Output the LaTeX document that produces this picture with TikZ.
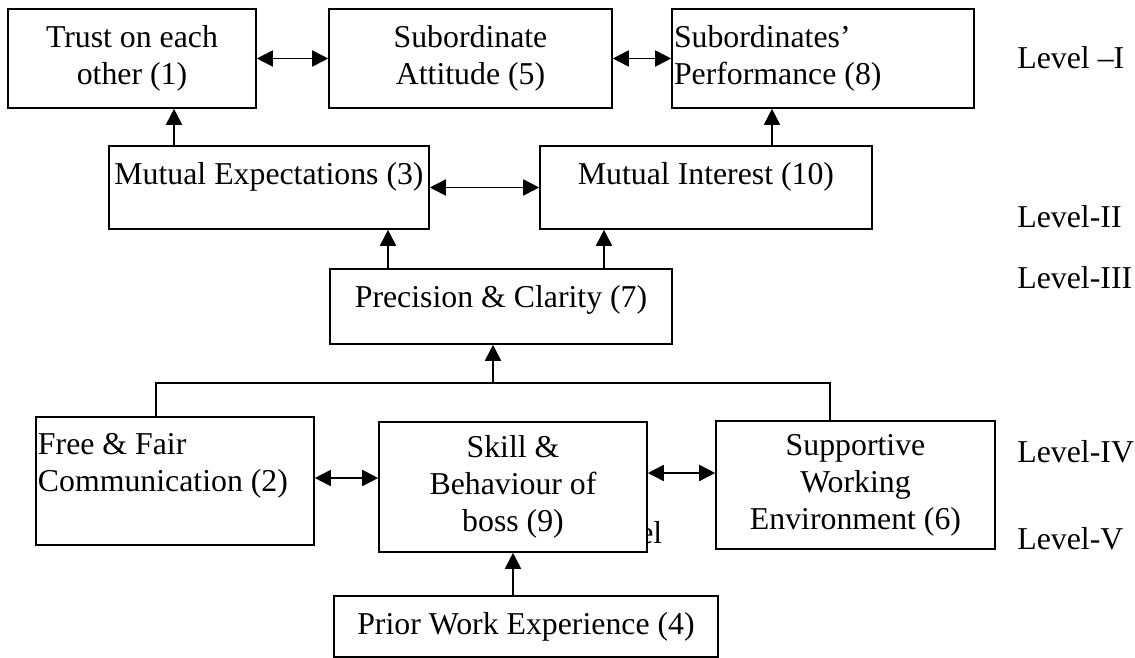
\documentclass[tikz,border=0pt]{standalone}
\usepackage{fontspec}
\setmainfont{Liberation Serif}
\usetikzlibrary{arrows.meta}

\begin{document}
\begin{tikzpicture}[x=0.5pt,y=-0.5pt]
\tikzstyle{every node}=[font=\fontsize{15.9pt}{18.5pt}\selectfont]
\tikzstyle{box}=[draw,line width=0.8pt,fill=white,inner sep=0pt,align=center]
\tikzstyle{link}=[line width=0.9pt,-{Triangle[length=8pt,width=8pt]}]
\tikzstyle{both}=[line width=0.9pt,{Triangle[length=8pt,width=8pt]}-{Triangle[length=8pt,width=8pt]}]
\tikzstyle{level}=[anchor=west,inner sep=0pt]
\useasboundingbox (0,0) rectangle (1135,658);

\node[box,minimum width=124pt,minimum height=49.5pt] (trust) at (132,58.5) {Trust on each\\other (1)};
\node[box,minimum width=141.5pt,minimum height=49.5pt] (attitude) at (470.5,58.5) {Subordinate\\Attitude (5)};
\node[box,text width=149pt,inner xsep=1pt,align=flush left,minimum height=49.5pt] (perform) at (823,58.5) {Subordinates’\\Performance (8)};

\node[box,minimum width=160pt,minimum height=41.5pt,text height=11.5pt,text depth=14.1pt] (expect) at (269,187.5) {Mutual Expectations (3)};
\node[box,minimum width=166pt,minimum height=41.5pt,text height=11.5pt,text depth=14.1pt] (interest) at (706,187.5) {Mutual Interest (10)};

\node[box,minimum width=171pt,minimum height=37.5pt,text height=11.5pt,text depth=10.1pt] (clarity) at (501,306.5) {Precision \& Clarity (7)};

\node[level] (hidden) at (589.5,533) {Level};
\node[box,text width=137pt,inner xsep=1pt,align=flush left,minimum height=64pt] (comm) at (175,481) {Free \& Fair\\Communication (2)\\\mbox{}};
\node[box,minimum width=134pt,minimum height=65pt] (skill) at (513,487) {Skill \&\\Behaviour of\\boss (9)};
\node[box,minimum width=139.5pt,minimum height=64pt] (support) at (855.5,485) {Supportive\\Working\\Environment (6)};

\node[box,minimum width=192pt,minimum height=30.5pt] (prior) at (526,626.5) {Prior Work Experience (4)};

\node[level] (lvlI) at (1017,58) {Level –I};
\node[level] (lvlII) at (1017,217) {Level-II};
\node[level] (lvlIII) at (1017,278) {Level-III};
\node[level] (lvlIV) at (1017,452) {Level-IV};
\node[level] (lvlV) at (1017,539) {Level-V};

\coordinate (x1) at (174,0);
\coordinate (x2) at (772,0);
\coordinate (x3) at (388,0);
\coordinate (x4) at (604,0);
\coordinate (y1) at (0,478);
\coordinate (y2) at (0,473);
\coordinate (fork) at (493,383);
\coordinate (forkl) at (156,383);
\coordinate (forkr) at (830,383);

\draw[both] (trust) -- (attitude);
\draw[both] (attitude) -- (perform);
\draw[link] (expect.north -| x1) -- (trust.south -| x1);
\draw[link] (interest.north -| x2) -- (perform.south -| x2);
\draw[both] (expect) -- (interest);
\draw[link] (clarity.north -| x3) -- (expect.south -| x3);
\draw[link] (clarity.north -| x4) -- (interest.south -| x4);
\draw[line width=0.8pt] (comm.north -| forkl) -- (forkl) -- (forkr) -- (support.north -| forkr);
\draw[link] (fork) -- (clarity.south -| fork);
\draw[both] (comm.east |- y1) -- (skill.west |- y1);
\draw[both] (skill.east |- y2) -- (support.west |- y2);
\draw[link] (prior.north -| skill) -- (skill.south);
\end{tikzpicture}
\end{document}
